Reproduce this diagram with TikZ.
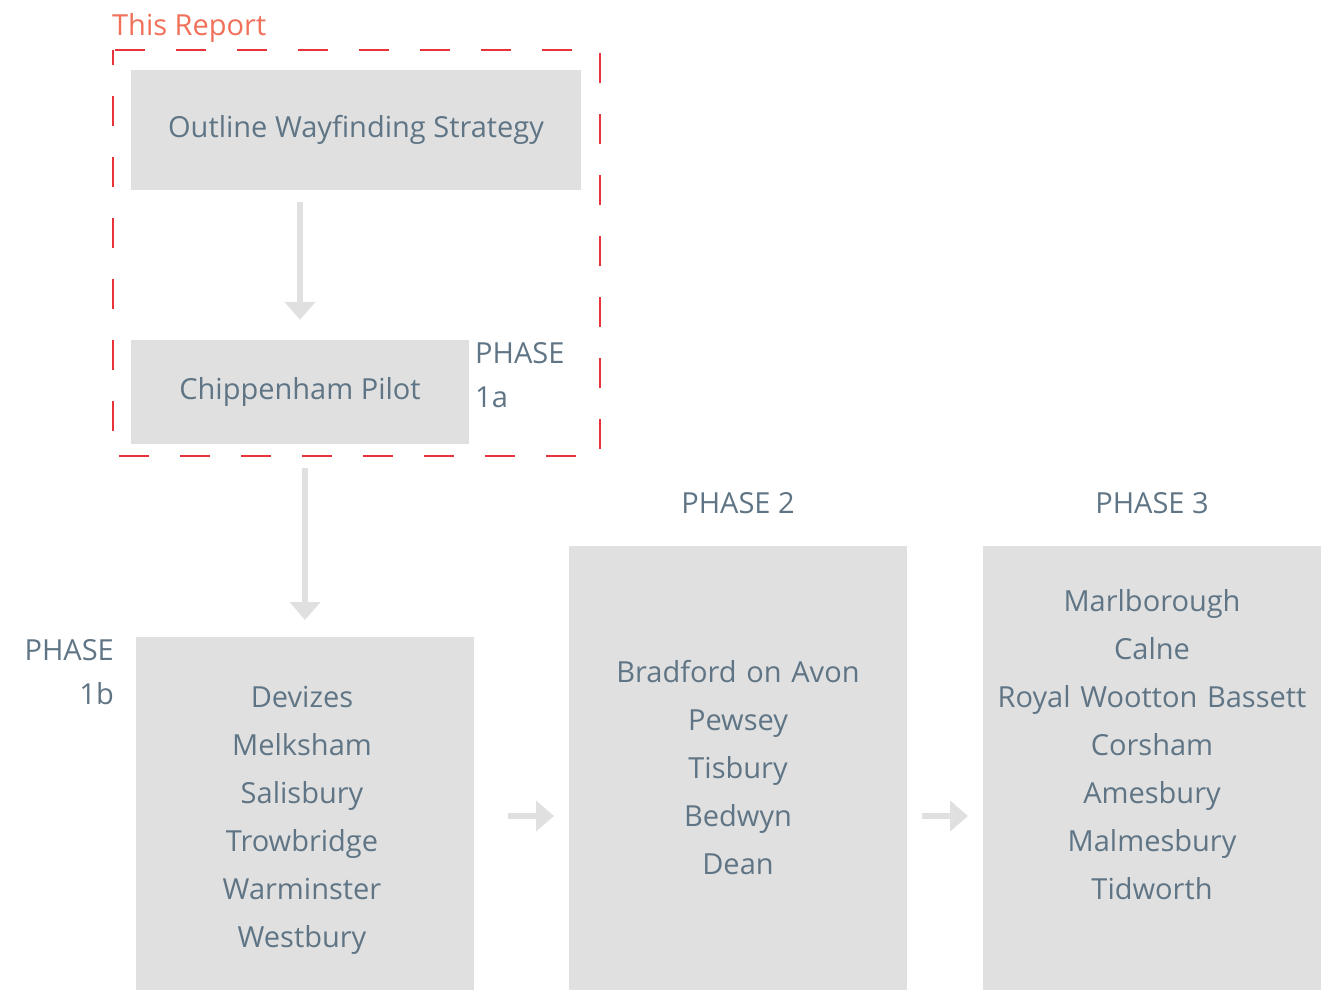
\documentclass[tikz,border=0pt]{standalone}
\usepackage{fontspec}
\setmainfont{Open Sans}
\usetikzlibrary{arrows.meta}
\definecolor{boxgrey}{HTML}{E0E0E0}
\definecolor{slate}{HTML}{5F7585}
\definecolor{reportred}{HTML}{E8333A}
\definecolor{reportlabel}{HTML}{F0705A}
\tikzset{
  stage/.style={fill=boxgrey, text=slate, inner sep=0pt, align=center,
    font=\fontsize{29}{48}\selectfont},
  towns/.style={stage, fill=none, anchor=north, text width=330},
  phase/.style={text=slate, inner sep=0pt, font=\fontsize{29}{44}\selectfont},
  flow/.style={boxgrey, line width=6pt, -{Triangle[width=30pt,length=18pt]}},
}
\begin{document}
\begin{tikzpicture}[x=1pt,y=-1pt]
        \useasboundingbox (0,0) rectangle (1329,990);
        % the report frame
        \node[text=reportlabel, inner sep=0pt, anchor=west,
          font=\fontsize{29}{34}\selectfont] (thisreport) at (112,28) {This Report};
        \draw[reportred, line width=2.5pt, dash pattern=on 30pt off 31pt, dash phase=15pt]
          (113,50) rectangle (600,456);
        \coordinate (framebottom) at (356,456);
        % boxes
        \node[stage, minimum width=450, minimum height=120] (outline) at (356,130)
          {Outline Wayfinding Strategy};
        \node[stage, minimum width=338, minimum height=104] (pilot) at (300,392)
          {Chippenham Pilot};
        \fill[boxgrey] (136,637) rectangle (474,990);
        \node[towns] (phaseb) at (302,686)
          {Devizes\\Melksham\\Salisbury\\Trowbridge\\Warminster\\Westbury};
        \fill[boxgrey] (569,546) rectangle (907,990);
        \node[towns] (phasetwo) at (738,660)
          {Bradford on Avon\\Pewsey\\Tisbury\\Bedwyn\\Dean};
        \fill[boxgrey] (983,546) rectangle (1321,990);
        \node[towns] (phasethree) at (1152,589)
          {Marlborough\\Calne\\Royal Wootton Bassett\\Corsham\\Amesbury\\Malmesbury\\Tidworth};
        \coordinate (phasebtop) at (305,637);
        \coordinate (phasebright) at (474,816);
        \coordinate (phasetwoleft) at (569,816);
        \coordinate (phasetworight) at (907,816);
        \coordinate (phasethreeleft) at (983,816);
        % phase labels
        \node[phase, anchor=north west, align=left] (labela) at (475,342) {PHASE\\1a};
        \node[phase, anchor=north east, align=right] (labelb) at (114,639) {PHASE\\1b};
        \node[phase] (labeltwo) at (738,503) {PHASE 2};
        \node[phase] (labelthree) at (1152,503) {PHASE 3};
        % arrows
        \draw[flow, shorten <=12pt, shorten >=20pt] (outline.south -| pilot.north) -- (pilot.north);
        \draw[flow, shorten <=12pt, shorten >=17pt] (framebottom -| phasebtop) -- (phasebtop);
        \draw[flow, shorten <=34pt, shorten >=15pt] (phasebright) -- (phasetwoleft);
        \draw[flow, shorten <=15pt, shorten >=15pt] (phasetworight) -- (phasethreeleft);
\end{tikzpicture}
\end{document}
